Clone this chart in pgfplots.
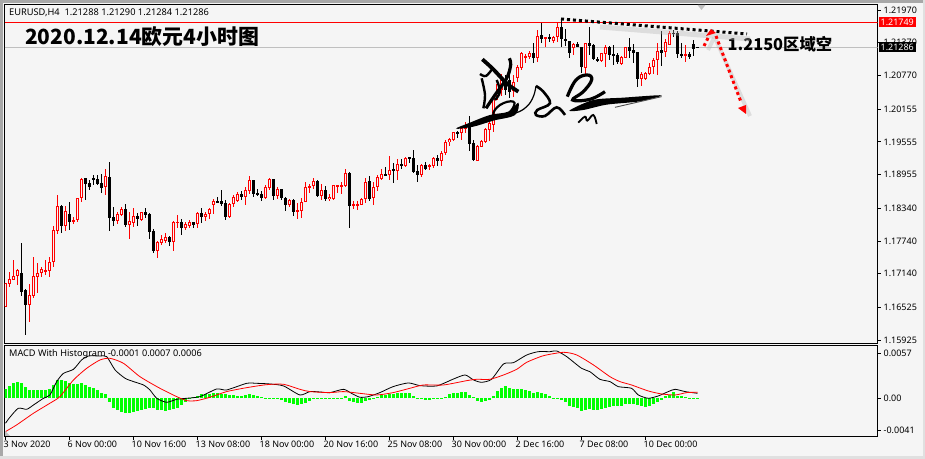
\documentclass[border=0pt]{standalone}
\usepackage{fontspec}
\usepackage{pgfplots}
\usepackage{pgfplotstable}
\pgfplotsset{compat=1.18}
\setmainfont{Noto Sans}
\newfontfamily\cjk{Noto Sans CJK SC}
\definecolor{bgc}{HTML}{F5F5F5}
\definecolor{macdgreen}{HTML}{00FF00}
\definecolor{framec}{HTML}{A8A8A8}

% x o h l c, candle index on x
\pgfplotstableread{
x o h l c
0 1.16536 1.16963 1.16523 1.16963
1 1.16957 1.17171 1.16902 1.17036
2 1.17024 1.17390 1.17018 1.17091
3 1.17091 1.17232 1.16932 1.17207
6 1.16572 1.16951 1.16255 1.16743
7 1.16737 1.17439 1.16694 1.17091
8 1.17085 1.17329 1.16792 1.17146
9 1.17146 1.17268 1.17073 1.17219
10 1.17183 1.17390 1.17116 1.17201
11 1.17195 1.17439 1.17085 1.17348
12 1.17348 1.18013 1.17262 1.17934
13 1.17928 1.18581 1.17873 1.18380
15 1.18019 1.18380 1.17928 1.18282
17 1.18093 1.18184 1.18056 1.18129
18 1.18123 1.18520 1.18093 1.18520
19 1.18520 1.18886 1.18447 1.18868
25 1.18721 1.19057 1.18581 1.18929
28 1.18111 1.18276 1.18050 1.18233
29 1.18221 1.18367 1.18202 1.18319
31 1.18038 1.18276 1.17775 1.18099
32 1.18074 1.18343 1.18001 1.18190
34 1.18129 1.18264 1.18111 1.18264
38 1.17555 1.17745 1.17427 1.17720
39 1.17708 1.17848 1.17665 1.17769
40 1.17738 1.17879 1.17708 1.17806
42 1.17726 1.18099 1.17555 1.18086
43 1.18074 1.18215 1.17970 1.18086
45 1.17977 1.18093 1.17940 1.18044
46 1.18019 1.18123 1.17970 1.18086
48 1.18044 1.18264 1.17977 1.18245
50 1.18178 1.18264 1.18105 1.18239
51 1.18239 1.18349 1.18141 1.18319
52 1.18392 1.18502 1.18233 1.18465
56 1.18178 1.18428 1.18154 1.18410
57 1.18410 1.18575 1.18361 1.18551
58 1.18477 1.18642 1.18459 1.18593
60 1.18551 1.18721 1.18398 1.18667
61 1.18660 1.18929 1.18599 1.18856
65 1.18526 1.18764 1.18502 1.18721
66 1.18709 1.18886 1.18673 1.18868
68 1.18563 1.18734 1.18502 1.18685
71 1.18398 1.18502 1.18367 1.18489
73 1.18282 1.18428 1.18141 1.18294
74 1.18282 1.18520 1.18154 1.18447
75 1.18446 1.18813 1.18446 1.18721
76 1.18721 1.18782 1.18624 1.18752
77 1.18752 1.18886 1.18685 1.18831
79 1.18562 1.18782 1.18489 1.18666
81 1.18508 1.18599 1.18471 1.18550
82 1.18508 1.18758 1.18489 1.18758
83 1.18746 1.18758 1.18611 1.18758
84 1.18752 1.18813 1.18599 1.18758
85 1.18746 1.19057 1.18727 1.18978
87 1.18391 1.18471 1.18318 1.18404
88 1.18391 1.18471 1.18306 1.18404
89 1.18404 1.18532 1.18391 1.18501
90 1.18501 1.18886 1.18428 1.18819
92 1.18532 1.18813 1.18398 1.18721
93 1.18721 1.18947 1.18660 1.18911
94 1.18880 1.19051 1.18862 1.18965
96 1.18947 1.19295 1.18856 1.19033
98 1.19027 1.19240 1.18856 1.19149
100 1.19112 1.19271 1.19100 1.19259
104 1.18947 1.19143 1.18917 1.19130
106 1.19106 1.19143 1.19045 1.19124
107 1.19118 1.19283 1.19081 1.19259
109 1.19210 1.19381 1.19118 1.19350
110 1.19356 1.19588 1.19314 1.19546
111 1.19546 1.19625 1.19484 1.19601
112 1.19588 1.19741 1.19576 1.19729
114 1.19710 1.19845 1.19588 1.19802
115 1.19790 1.19912 1.19710 1.19814
118 1.19210 1.19497 1.19210 1.19478
119 1.19466 1.19588 1.19454 1.19570
120 1.19546 1.19802 1.19527 1.19790
121 1.19771 1.19942 1.19576 1.19906
122 1.19863 1.20413 1.19735 1.20376
123 1.20376 1.20688 1.20321 1.20614
124 1.20504 1.20797 1.20394 1.20688
127 1.20486 1.20779 1.20376 1.20651
128 1.20724 1.20962 1.20651 1.20926
129 1.20907 1.21200 1.20871 1.21182
130 1.21109 1.21164 1.20999 1.21127
131 1.21109 1.21219 1.21072 1.21182
133 1.21091 1.21603 1.21017 1.21494
135 1.21448 1.21475 1.21292 1.21466
137 1.21407 1.21494 1.21365 1.21481
138 1.21475 1.21732 1.21384 1.21658
142 1.21274 1.21365 1.21146 1.21347
145 1.20907 1.21365 1.20779 1.21365
149 1.21036 1.21182 1.21017 1.21182
150 1.21164 1.21329 1.20926 1.21292
154 1.20981 1.21127 1.20962 1.21109
155 1.21091 1.21292 1.21091 1.21292
159 1.20706 1.20834 1.20578 1.20797
160 1.20706 1.20834 1.20688 1.20816
161 1.20797 1.20999 1.20779 1.20926
162 1.20926 1.21091 1.20797 1.21054
163 1.21054 1.21365 1.20779 1.21219
165 1.21200 1.21439 1.21109 1.21384
166 1.21329 1.21585 1.21329 1.21548
170 1.21146 1.21329 1.21017 1.21164
}\bull
\pgfplotstableread{
x o h l c
4 1.17152 1.17696 1.16737 1.16810
5 1.16841 1.16859 1.16017 1.16572
14 1.18386 1.18398 1.17891 1.18019
16 1.18233 1.18453 1.17940 1.18086
20 1.18886 1.18886 1.18489 1.18789
21 1.18795 1.18856 1.18673 1.18734
22 1.18886 1.18947 1.18764 1.18856
23 1.18874 1.18941 1.18770 1.18789
24 1.18795 1.18966 1.18624 1.18715
26 1.18905 1.19186 1.17922 1.18166
27 1.18178 1.18361 1.18013 1.18111
30 1.18319 1.18416 1.18001 1.18032
33 1.18190 1.18257 1.18019 1.18141
35 1.18270 1.18337 1.18166 1.18221
36 1.18233 1.18257 1.17775 1.17909
37 1.17922 1.17958 1.17525 1.17555
41 1.17812 1.17836 1.17647 1.17726
44 1.18086 1.18141 1.17854 1.17983
47 1.18086 1.18086 1.17970 1.18038
49 1.18245 1.18349 1.18074 1.18184
53 1.18465 1.18538 1.18428 1.18453
54 1.18465 1.18673 1.18380 1.18410
55 1.18435 1.18489 1.18123 1.18178
59 1.18593 1.18660 1.18489 1.18551
62 1.18856 1.18856 1.18551 1.18599
63 1.18612 1.18685 1.18569 1.18587
64 1.18599 1.18660 1.18477 1.18526
67 1.18874 1.18874 1.18489 1.18569
69 1.18685 1.18685 1.18489 1.18526
70 1.18526 1.18538 1.18294 1.18398
72 1.18489 1.18502 1.18196 1.18276
78 1.18837 1.18856 1.18544 1.18562
80 1.18666 1.18746 1.18477 1.18514
86 1.18984 1.19002 1.17976 1.18379
91 1.18837 1.18929 1.18477 1.18501
95 1.18953 1.19088 1.18929 1.18947
97 1.19045 1.19161 1.18807 1.19033
99 1.19143 1.19240 1.19057 1.19118
101 1.19265 1.19277 1.19161 1.19252
102 1.19252 1.19399 1.19002 1.19008
103 1.19014 1.19130 1.18825 1.18947
105 1.19130 1.19179 1.19057 1.19063
108 1.19252 1.19314 1.19118 1.19210
113 1.19735 1.19747 1.19631 1.19710
116 1.19863 1.20028 1.19393 1.19521
117 1.19527 1.19588 1.19222 1.19228
125 1.20651 1.20779 1.20413 1.20504
126 1.20688 1.21017 1.20358 1.20468
132 1.21182 1.21365 1.20999 1.21091
134 1.21512 1.21732 1.21365 1.21439
136 1.21475 1.21530 1.21384 1.21457
139 1.21658 1.21805 1.21292 1.21439
140 1.21439 1.21622 1.21310 1.21402
141 1.21402 1.21402 1.21091 1.21182
143 1.21347 1.21384 1.21292 1.21292
144 1.21292 1.21292 1.20816 1.20926
146 1.21365 1.21658 1.21146 1.21310
147 1.21329 1.21347 1.21054 1.21072
148 1.21072 1.21109 1.21017 1.21036
151 1.21292 1.21310 1.21054 1.21146
152 1.21164 1.21329 1.20962 1.21127
153 1.21146 1.21182 1.20981 1.21017
156 1.21292 1.21457 1.21091 1.21219
157 1.21237 1.21347 1.20999 1.21182
158 1.21200 1.21200 1.20559 1.20706
164 1.21237 1.21585 1.20944 1.21182
167 1.21548 1.21603 1.21475 1.21539
168 1.21548 1.21585 1.21091 1.21164
169 1.21164 1.21365 1.21091 1.21146
171 1.21164 1.21200 1.21072 1.21109
172 1.21347 1.21420 1.21127 1.21255
173 1.21288 1.21290 1.21284 1.21286
}\bear

% MACD histogram
\pgfplotstableread{
x v
0 0.00114
1 0.00161
2 0.00190
3 0.00207
4 0.00190
5 0.00148
6 0.00110
7 0.00106
8 0.00106
9 0.00106
10 0.00106
11 0.00118
12 0.00169
13 0.00233
14 0.00233
15 0.00224
16 0.00199
17 0.00186
18 0.00186
19 0.00199
20 0.00165
21 0.00148
22 0.00127
23 0.00106
24 0.00072
25 0.00051
26 -0.00042
27 -0.00118
28 -0.00148
29 -0.00169
30 -0.00186
31 -0.00186
32 -0.00178
33 -0.00161
34 -0.00152
35 -0.00131
36 -0.00118
37 -0.00127
38 -0.00148
39 -0.00152
40 -0.00161
41 -0.00152
42 -0.00140
43 -0.00118
44 -0.00085
45 -0.00042
46 -0.00013
47 0.00013
48 0.00034
49 0.00051
50 0.00055
51 0.00059
52 0.00063
53 0.00063
54 0.00059
55 0.00051
56 0.00047
57 0.00038
58 0.00034
59 0.00034
60 0.00038
61 0.00051
62 0.00038
63 0.00030
64 0.00013
65 0.00006
66 0.00004
67 0.00002
68 -0.00004
69 -0.00025
70 -0.00042
71 -0.00055
72 -0.00076
73 -0.00085
74 -0.00072
75 -0.00055
76 -0.00034
77 -0.00008
78 -0.00008
79 -0.00002
80 0.00002
81 0.00004
82 0.00004
83 0.00006
84 0.00008
85 0.00025
86 -0.00038
87 -0.00047
88 -0.00059
89 -0.00059
90 -0.00030
91 -0.00021
92 -0.00013
93 0.00013
94 0.00038
95 0.00047
96 0.00051
97 0.00059
98 0.00063
99 0.00063
100 0.00063
101 0.00063
102 0.00030
103 0.00008
104 -0.00013
105 -0.00021
106 -0.00017
107 -0.00013
108 -0.00013
109 -0.00004
110 0.00017
111 0.00051
112 0.00063
113 0.00072
114 0.00080
115 0.00076
116 0.00042
117 0.00013
118 -0.00038
119 -0.00047
120 -0.00034
121 -0.00017
122 0.00025
123 0.00093
124 0.00135
125 0.00157
126 0.00135
127 0.00123
128 0.00118
129 0.00118
130 0.00106
131 0.00089
132 0.00072
133 0.00080
134 0.00068
135 0.00051
136 0.00025
137 0.00008
138 0.00002
139 -0.00021
140 -0.00047
141 -0.00093
142 -0.00114
143 -0.00127
144 -0.00161
145 -0.00144
146 -0.00140
147 -0.00148
148 -0.00148
149 -0.00140
150 -0.00127
151 -0.00114
152 -0.00102
153 -0.00097
154 -0.00093
155 -0.00076
156 -0.00068
157 -0.00072
158 -0.00085
159 -0.00093
160 -0.00106
161 -0.00093
162 -0.00076
163 -0.00051
164 -0.00025
165 0.00034
166 0.00042
167 0.00076
168 0.00034
169 0.00030
170 0.00021
171 -0.00008
172 -0.00008
173 -0.00010
}\histo

\begin{document}
\begin{tikzpicture}
\fill[bgc] (0bp,0bp) rectangle (925bp,459bp);
\path[use as bounding box] (0bp,0bp) rectangle (925bp,459bp);
\fill[framec] (0bp,0bp) rectangle (3bp,459bp);
\fill[framec] (0bp,456bp) rectangle (925bp,459bp);
\fill[black!12] (0bp,0bp) rectangle (925bp,3bp);
\fill[black!12] (923bp,0bp) rectangle (925bp,459bp);

\pgfplotsset{panel/.style={
  scale only axis, width=873bp,
  xmin=-0.25, xmax=218,
  clip mode=individual,
  axis line style={line width=1.2bp},
  tick style={black,line width=.8bp},
  major tick length=3bp,
  tick align=outside,
  ytick pos=right, yticklabel pos=right,
  yticklabel style={font=\fontsize{9}{10}\selectfont,inner sep=0pt,xshift=3bp},
  scaled y ticks=false,
},
bars only/.style={draw=none,mark=none,error bars/.cd,y dir=both,y explicit,error mark=none,
  error bar style={draw=#1}},
}

\begin{axis}[panel,
  at={(4.5bp,115.7bp)}, anchor=south west, height=338.8bp,
  ymin=1.15865, ymax=1.22071,
  xtick=\empty,
  ytick={1.15925,1.16525,1.1714,1.1774,1.1834,1.18955,1.19555,1.20155,1.2077,1.2137,1.2197},
  yticklabels={1.15925,1.16525,1.17140,1.17740,1.18340,1.18955,1.19555,1.20155,1.20770,1.21370,1.21970},
]
\addplot[black!25,line width=1bp,forget plot] coordinates {(-0.25,1.21286) (218,1.21286)};
\addplot[red,line width=1bp,forget plot] coordinates {(-0.25,1.21749) (218,1.21749)};
% wicks
\addplot[draw=none,mark=none,error bars/.cd,y dir=both,y explicit,error mark=none,
  error bar style={draw=red,line width=1bp}]
  table[x=x,y=c,y error plus expr=\thisrow{h}-\thisrow{c},y error minus expr=\thisrow{c}-\thisrow{l}] {\bull};
\addplot[draw=none,mark=none,error bars/.cd,y dir=both,y explicit,error mark=none,
  error bar style={draw=black,line width=1bp}]
  table[x=x,y=c,y error plus expr=\thisrow{h}-\thisrow{c},y error minus expr=\thisrow{c}-\thisrow{l}] {\bear};
% bodies
\addplot[draw=none,mark=none,error bars/.cd,y dir=both,y explicit,error mark=none,
  error bar style={draw=red,line width=3bp}]
  table[x=x,y expr=(\thisrow{o}+\thisrow{c})/2,
    y error plus expr={max((\thisrow{c}-\thisrow{o})/2,0.00011)},
    y error minus expr={max((\thisrow{c}-\thisrow{o})/2,0.00011)}] {\bull};
\addplot[draw=none,mark=none,error bars/.cd,y dir=both,y explicit,error mark=none,
  error bar style={draw=bgc,line width=1bp}]
  table[x=x,y expr=(\thisrow{o}+\thisrow{c})/2,
    y error plus expr={max((\thisrow{c}-\thisrow{o})/2-0.00018,0)},
    y error minus expr={max((\thisrow{c}-\thisrow{o})/2-0.00018,0)}] {\bull};
\addplot[draw=none,mark=none,error bars/.cd,y dir=both,y explicit,error mark=none,
  error bar style={draw=black,line width=3bp}]
  table[x=x,y expr=(\thisrow{o}+\thisrow{c})/2,
    y error plus expr={max((\thisrow{o}-\thisrow{c})/2,0.00011)},
    y error minus expr={max((\thisrow{o}-\thisrow{c})/2,0.00011)}] {\bear};
% current price boxes
\node[fill=red,text=white,anchor=west,inner sep=0pt,minimum width=37bp,minimum height=10bp,
  font=\fontsize{9}{10}\selectfont] at (axis cs:218.25,1.21749) {1.21749};
\node[fill=black,text=white,anchor=west,inner sep=0pt,minimum width=37bp,minimum height=10bp,
  font=\fontsize{9}{10}\selectfont] at (axis cs:218.25,1.21286) {1.21286};
\end{axis}

\begin{axis}[panel,
  at={(4.5bp,22.3bp)}, anchor=south west, height=91.4bp,
  ymin=-0.00488, ymax=0.00673,
  ytick={-0.0041,0,0.0057},
  yticklabels={-0.0041,0.00,0.0057},
  xtick={0,16,32,48,64,80,96,112,128,144,160},
  xticklabels={3 Nov 2020,6 Nov 00:00,10 Nov 16:00,13 Nov 08:00,18 Nov 00:00,20 Nov 16:00,25 Nov 08:00,30 Nov 00:00,2 Dec 16:00,7 Dec 08:00,10 Dec 00:00},
  xtick pos=bottom,
  xticklabel style={font=\fontsize{9}{10}\selectfont,anchor=north west,inner sep=0pt,xshift=-2bp,yshift=-1bp},
]
\addplot[draw=none,mark=none,error bars/.cd,y dir=both,y explicit,error mark=none,
  error bar style={draw=macdgreen,line width=3bp}]
  table[x=x,y expr=0,
    y error plus expr={max(\thisrow{v},0)},
    y error minus expr={max(-\thisrow{v},0)}] {\histo};
\addplot[black,line width=.8bp,smooth,tension=.4] coordinates {
(0,-0.00317)(1.1,-0.00241)(3.2,-0.00127)(5.3,-0.0014)(7,-0.00085)(9.5,0)(11.1,0.00042)
(12.8,0.00212)(14.5,0.00317)(17,0.00368)(19,0.00486)(20.7,0.00537)(23.6,0.00537)(25.3,0.00529)
(27.4,0.0036)(29.9,0.00254)(32,0.00212)(34.5,0.00169)(36.1,0.00106)(37.8,0)(40.3,-0.00051)
(42.8,-0.00013)(45.3,0)(48.6,0.00021)(52.8,0.00118)(55.3,0.00106)(60.3,0.0019)(62.8,0.0019)
(66.1,0.00182)(69.5,0.00157)(73.6,0.00042)(76.1,0.00085)(78.6,0.0008)(81.1,0.00072)(84.5,0.00114)
(86.5,0.00063)(88.6,0.00013)(90.7,0.00021)(93.6,0.00072)(96.9,0.00148)(100.7,0.00195)(103.6,0.00161)
(107.8,0.00157)(112,0.00245)(114.9,0.00296)(117,0.00233)(119,0.00203)(121.5,0.00241)(124.5,0.00436)
(127,0.00453)(130.3,0.0055)(133.2,0.00592)(136.1,0.00592)(137.8,0.00601)(140.3,0.00529)(144,0.00381)
(146.1,0.00338)(148.6,0.00241)(151.1,0.00212)(153.2,0.00148)(156.5,0.00127)(158.2,0.00042)(160.7,0)
(163.2,0.0003)(165.7,0.00085)(167.4,0.00114)(169.9,0.00085)(173,0.00063)};
\addplot[red,line width=.8bp,smooth,tension=.4] coordinates {
(0,-0.00423)(2.8,-0.00338)(7,-0.0019)(11.1,-0.00063)(13.6,0.00021)(17,0.00233)(20.3,0.00381)
(23.6,0.00486)(26.1,0.00508)(29.5,0.00444)(33.6,0.00275)(38.6,0.00127)(42.8,0.00021)(45.3,-0.0003)
(47.8,-0.0003)(51.1,0.00013)(55.3,0.00085)(60.3,0.00135)(65.3,0.00173)(69.5,0.00178)(73.6,0.00114)
(76.1,0.00085)(81.1,0.00072)(84.5,0.00085)(88.6,0.00063)(92.8,0.00042)(96.9,0.00072)(101.1,0.00127)
(104.5,0.00169)(109.5,0.00169)(115.3,0.00224)(117.8,0.00241)(121.1,0.00241)(124.5,0.00296)
(127.8,0.00368)(130.3,0.00457)(134.5,0.00541)(139.5,0.00584)(142.8,0.0055)(147,0.00423)(151.1,0.00275)
(153.6,0.00212)(156.5,0.00169)(160.7,0.00093)(164,0.00055)(167.4,0.00042)(170.3,0.00072)(173,0.00076)};
\end{axis}

% annotations in image pixels, y downward
\begin{scope}[shift={(0bp,459bp)},x=1bp,y=-1bp]
\node[anchor=west,inner sep=0pt,font=\fontsize{9.3}{10}\selectfont] at (9,12.5) {EURUSD,H4\ \ 1.21288 1.21290 1.21284 1.21286};
\node[anchor=west,inner sep=0pt,font=\fontsize{9.2}{10}\selectfont] at (9,354.5) {MACD With Histogram -0.0001 0.0007 0.0006};
\node[anchor=west,inner sep=0pt,font=\cjk\bfseries\fontsize{21}{24}\selectfont] at (25,37) {2020.12.14欧元4小时图};
\node[anchor=west,inner sep=0pt,font=\cjk\bfseries\fontsize{16.4}{20}\selectfont] at (727.5,44.5) {1.2150区域空};
\fill[black!25] (697.5,5) -- (705.5,5) -- (701.5,10) -- cycle;
\fill[black!25] (5,431) -- (10,436) -- (5,436) -- cycle;
% shadows of the drawn lines
\draw[black!30,opacity=.35,line width=5bp] (600,27) -- (750,39);
\draw[black!30,opacity=.35,line width=4bp] (708,50) -- (714,38);
\draw[black!30,opacity=.35,line width=4bp] (716,40) -- (750,116);
% resistance line and arrows
\draw[black,line width=3bp,dash pattern=on 3bp off 3bp] (561,19) -- (747,34);
\draw[red,line width=3bp,dash pattern=on 3bp off 3bp] (704,46) -- (709,36);
\draw[red,line width=3bp,dash pattern=on 3bp off 3bp] (716,36) -- (741,102);
\fill[red] (706,36) -- (711,29) -- (716,33) -- cycle;
\fill[red] (738,108) -- (746,105) -- (746,114) -- cycle;
% signature
\begin{scope}[shift={(450,0)},x=.3333bp,y=-.3333bp]
\fill[black] plot[smooth cycle,tension=.6] coordinates {(18,386)(60,368)(120,345)(175,335)(205,308)(195,345)(130,362)(70,380)};
\draw[black,line width=1.2bp] plot[smooth,tension=.7] coordinates {(70,376)(130,358)(195,340)(230,320)(250,290)(258,258)};
\draw[black,line width=2.2bp] plot[smooth cycle,tension=.8] coordinates {(130,345)(150,315)(190,305)(185,330)(160,348)};
\draw[black,line width=3.8bp] plot[smooth,tension=.6] coordinates {(97,178)(130,208)(170,250)(205,275)};
\draw[black,line width=3.2bp] plot[smooth,tension=.6] coordinates {(178,175)(182,195)(170,235)(135,285)(108,325)};
\draw[black,line width=2.4bp] plot[smooth,tension=.6] coordinates {(90,222)(108,228)(128,205)};
\draw[black,line width=2.4bp] plot[smooth,tension=.6] coordinates {(95,235)(105,285)(100,325)};
\draw[black,line width=2.4bp] plot[smooth,tension=.6] coordinates {(140,240)(150,275)(135,300)};
\draw[black,line width=2.6bp] plot[smooth,tension=.6] coordinates {(258,258)(280,275)(300,310)(262,330)(258,345)(285,348)(320,322)(345,345)};
\draw[black,line width=3.2bp] plot[smooth,tension=.7] coordinates {(352,290)(378,240)(412,225)(425,240)(400,275)(368,300)(420,298)(465,275)};
\fill[black] plot[smooth cycle,tension=.5] coordinates {(358,332)(430,300)(520,293)(635,286)(570,304)(470,314)(400,330)};
\draw[black!70,line width=.9bp] (495,322) -- (635,290);
\draw[black,line width=1.8bp] plot[smooth,tension=.7] coordinates {(385,368)(405,350)(412,362)(430,345)(440,372)};
\end{scope}
\end{scope}
\end{tikzpicture}
\end{document}
